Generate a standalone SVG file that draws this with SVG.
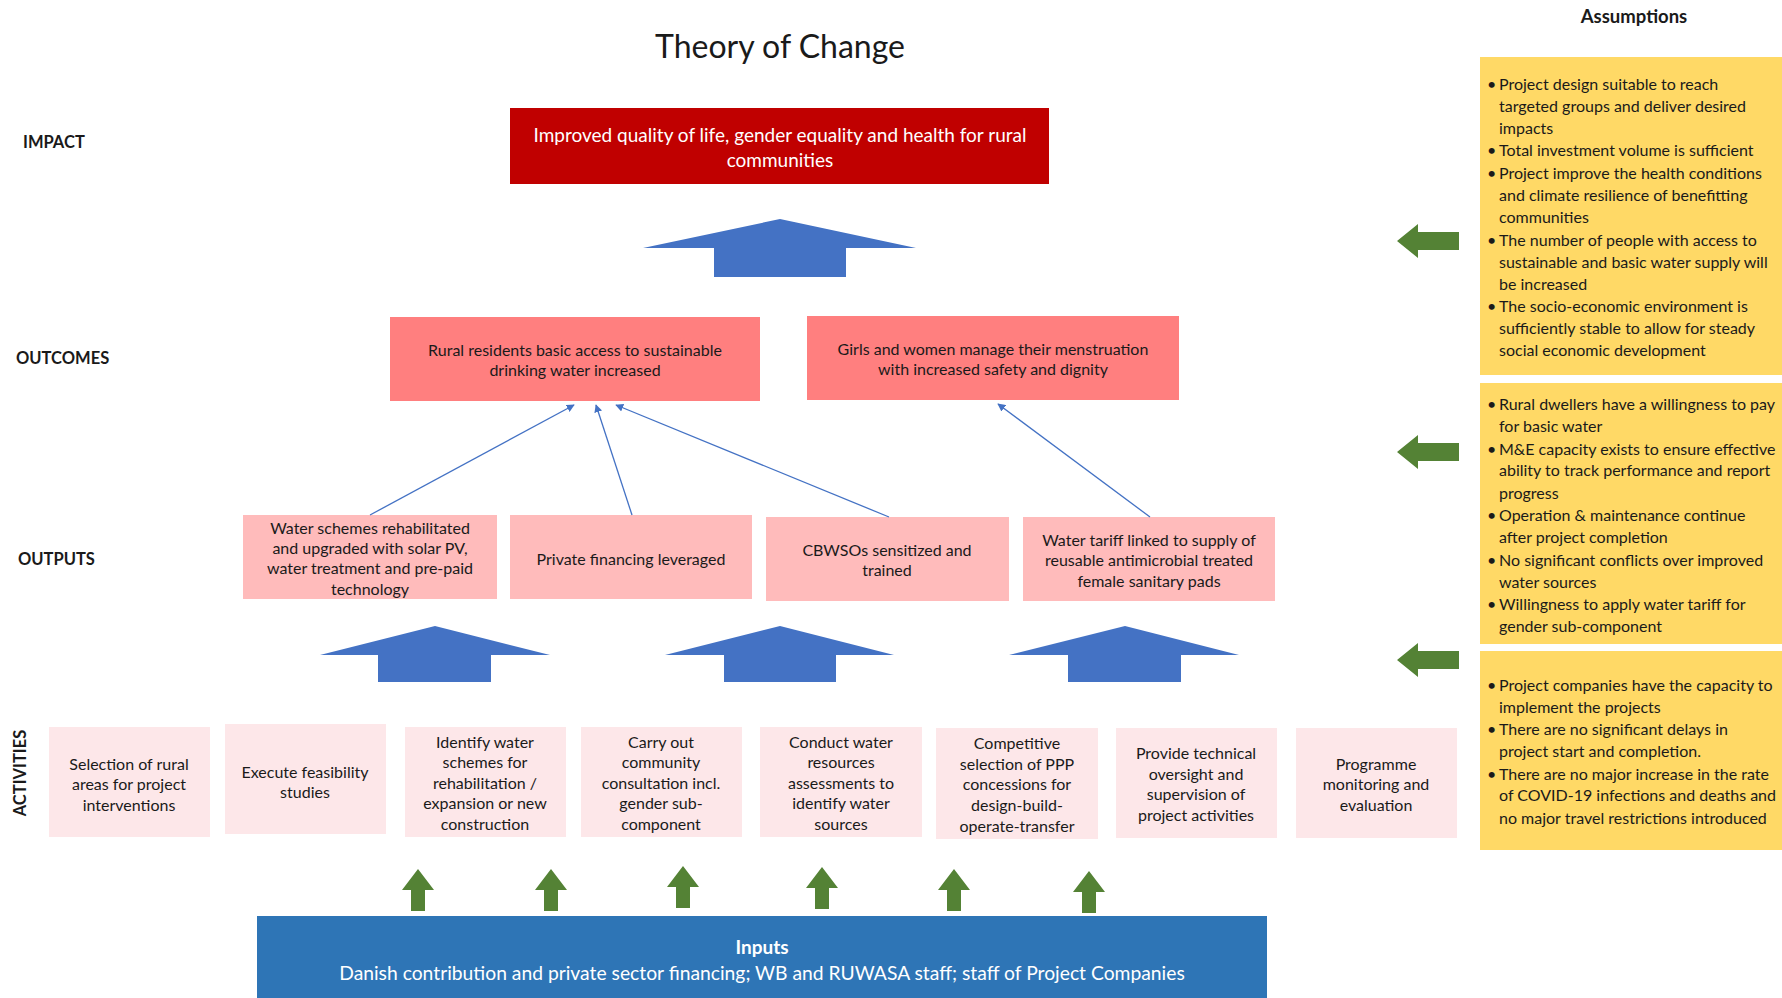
<svg xmlns="http://www.w3.org/2000/svg" width="1782" height="998" viewBox="0 0 1782 998">
<defs>
<style>
text{font-family:Lato,"Liberation Sans",sans-serif;fill:#1a1a1a;dominant-baseline:central}
.t{text-anchor:middle}
.w{fill:#fff}
.lbl{font-weight:bold;font-size:16.5px}
.act rect{fill:#FDE7E9}
.act text{font-size:16px;text-anchor:middle}
.out rect{fill:#FFBBBB}
.out text{font-size:16px;text-anchor:middle}
.oc rect{fill:#FF7F7F}
.oc text{font-size:16px;text-anchor:middle}
.big{fill:#4472C4}
.gr{fill:#548235}
.asm rect{fill:#FFD966}
.asm text{font-size:16px}
.conn line{stroke:#4472C4;stroke-width:1.3;marker-end:url(#ah)}
</style>
<marker id="ah" viewBox="0 0 10 10" refX="9" refY="5" markerWidth="8" markerHeight="8" orient="auto" markerUnits="userSpaceOnUse"><path d="M0,0L10,5L0,10z" fill="#4472C4"/></marker>
<polygon id="gup" points="-16,21 0,0 16,21 7,21 7,42 -7,42 -7,21" class="gr"/>
<polygon id="gleft" points="0,0 21,-17 21,-9 62,-9 62,9 21,9 21,17" class="gr"/>
</defs>
<rect width="1782" height="998" fill="#fff"/>

<text x="780" y="45" class="t" style="font-size:32px">Theory of Change</text>

<g id="labels">
<text x="23" y="142" class="lbl">IMPACT</text>
<text x="16" y="358" class="lbl">OUTCOMES</text>
<text x="18" y="559" class="lbl">OUTPUTS</text>
<text x="20" y="773" class="lbl t" transform="rotate(-90 20 773)">ACTIVITIES</text>
</g>

<g id="impact">
<rect x="510" y="108" width="539" height="76" fill="#C00000"/>
<text x="780" y="134" class="t w" style="font-size:19px">Improved quality of life, gender equality and health for rural</text>
<text x="780" y="159" class="t w" style="font-size:19px">communities</text>
</g>

<g id="big-arrows">
<polygon class="big" points="780,219 916,248 846,248 846,277 714,277 714,248 643,248"/>
<polygon class="big" points="435,626 550,655 491,655 491,682 378,682 378,655 320,655"/>
<polygon class="big" points="780,626 894,655 836,655 836,682 724,682 724,655 665,655"/>
<polygon class="big" points="1125,626 1239,655 1181,655 1181,682 1068,682 1068,655 1009,655"/>
</g>

<g id="outcome1" class="oc">
<rect x="390" y="317" width="370" height="84"/>
<text x="575" y="349">Rural residents basic access to sustainable</text>
<text x="575" y="369">drinking water increased</text>
</g>
<g id="outcome2" class="oc">
<rect x="807" y="316" width="372" height="84"/>
<text x="993" y="348">Girls and women manage their menstruation</text>
<text x="993" y="368">with increased safety and dignity</text>
</g>

<g id="output1" class="out">
<rect x="243" y="515" width="254" height="84"/>
<text x="370" y="527">Water schemes rehabilitated</text>
<text x="370" y="547">and upgraded with solar PV,</text>
<text x="370" y="567">water treatment and pre-paid</text>
<text x="370" y="588">technology</text>
</g>
<g id="output2" class="out">
<rect x="510" y="515" width="242" height="84"/>
<text x="631" y="558">Private financing leveraged</text>
</g>
<g id="output3" class="out">
<rect x="766" y="517" width="243" height="84"/>
<text x="887" y="549">CBWSOs sensitized and</text>
<text x="887" y="569">trained</text>
</g>
<g id="output4" class="out">
<rect x="1023" y="517" width="252" height="84"/>
<text x="1149" y="539">Water tariff linked to supply of</text>
<text x="1149" y="559">reusable antimicrobial treated</text>
<text x="1149" y="580">female sanitary pads</text>
</g>

<g id="connectors" class="conn">
<line x1="370" y1="515" x2="574" y2="405"/>
<line x1="632" y1="515" x2="596" y2="405"/>
<line x1="889" y1="517" x2="616" y2="405"/>
<line x1="1150" y1="517" x2="998" y2="404"/>
</g>

<g id="act1" class="act"><rect x="49" y="727" width="161" height="110"/>
<text x="129" y="763">Selection of rural</text><text x="129" y="783">areas for project</text><text x="129" y="804">interventions</text></g>
<g id="act2" class="act"><rect x="225" y="724" width="161" height="110"/>
<text x="305" y="771">Execute feasibility</text><text x="305" y="791">studies</text></g>
<g id="act3" class="act"><rect x="405" y="727" width="161" height="110"/>
<text x="485" y="741">Identify water</text><text x="485" y="761">schemes for</text><text x="485" y="782">rehabilitation /</text><text x="485" y="802">expansion or new</text><text x="485" y="823">construction</text></g>
<g id="act4" class="act"><rect x="581" y="727" width="161" height="110"/>
<text x="661" y="741">Carry out</text><text x="661" y="761">community</text><text x="661" y="782">consultation incl.</text><text x="661" y="802">gender sub-</text><text x="661" y="823">component</text></g>
<g id="act5" class="act"><rect x="760" y="727" width="162" height="110"/>
<text x="841" y="741">Conduct water</text><text x="841" y="761">resources</text><text x="841" y="782">assessments to</text><text x="841" y="802">identify water</text><text x="841" y="823">sources</text></g>
<g id="act6" class="act"><rect x="936" y="728" width="162" height="111"/>
<text x="1017" y="742">Competitive</text><text x="1017" y="763">selection of PPP</text><text x="1017" y="783">concessions for</text><text x="1017" y="804">design-build-</text><text x="1017" y="825">operate-transfer</text></g>
<g id="act7" class="act"><rect x="1116" y="728" width="161" height="110"/>
<text x="1196" y="752">Provide technical</text><text x="1196" y="773">oversight and</text><text x="1196" y="793">supervision of</text><text x="1196" y="814">project activities</text></g>
<g id="act8" class="act"><rect x="1296" y="728" width="161" height="110"/>
<text x="1376" y="763">Programme</text><text x="1376" y="783">monitoring and</text><text x="1376" y="804">evaluation</text></g>

<g id="green-up">
<use href="#gup" x="418" y="869"/>
<use href="#gup" x="551" y="869"/>
<use href="#gup" x="683" y="866"/>
<use href="#gup" x="822" y="867"/>
<use href="#gup" x="954" y="869"/>
<use href="#gup" x="1089" y="871"/>
</g>

<g id="inputs">
<rect x="257" y="916" width="1010" height="82" fill="#2E75B6"/>
<text x="762" y="946" class="t w" style="font-size:19px;font-weight:bold">Inputs</text>
<text x="762" y="972" class="t w" style="font-size:19.3px">Danish contribution and private sector financing; WB and RUWASA staff; staff of Project Companies</text>
</g>

<g id="green-left">
<use href="#gleft" x="1397" y="241"/>
<use href="#gleft" x="1397" y="452"/>
<use href="#gleft" x="1397" y="660"/>
</g>

<text x="1634" y="16" class="t" style="font-size:18.5px;font-weight:bold">Assumptions</text>

<g id="assump1" class="asm">
<rect x="1480" y="57" width="302" height="318"/>
<text x="1487" y="83">•</text><text x="1499" y="83">Project design suitable to reach</text>
<text x="1499" y="105">targeted groups and deliver desired</text>
<text x="1499" y="127">impacts</text>
<text x="1487" y="149">•</text><text x="1499" y="149">Total investment volume is sufficient</text>
<text x="1487" y="172">•</text><text x="1499" y="172">Project improve the health conditions</text>
<text x="1499" y="194">and climate resilience of benefitting</text>
<text x="1499" y="216">communities</text>
<text x="1487" y="239">•</text><text x="1499" y="239">The number of people with access to</text>
<text x="1499" y="261">sustainable and basic water supply will</text>
<text x="1499" y="283">be increased</text>
<text x="1487" y="305">•</text><text x="1499" y="305">The socio-economic environment is</text>
<text x="1499" y="327">sufficiently stable to allow for steady</text>
<text x="1499" y="349">social economic development</text>
</g>
<g id="assump2" class="asm">
<rect x="1480" y="383" width="302" height="261"/>
<text x="1487" y="403">•</text><text x="1499" y="403">Rural dwellers have a willingness to pay</text>
<text x="1499" y="425">for basic water</text>
<text x="1487" y="448">•</text><text x="1499" y="448">M&amp;E capacity exists to ensure effective</text>
<text x="1499" y="469">ability to track performance and report</text>
<text x="1499" y="492">progress</text>
<text x="1487" y="514">•</text><text x="1499" y="514">Operation &amp; maintenance continue</text>
<text x="1499" y="536">after project completion</text>
<text x="1487" y="559">•</text><text x="1499" y="559">No significant conflicts over improved</text>
<text x="1499" y="581">water sources</text>
<text x="1487" y="603">•</text><text x="1499" y="603">Willingness to apply water tariff for</text>
<text x="1499" y="625">gender sub-component</text>
</g>
<g id="assump3" class="asm">
<rect x="1480" y="651" width="302" height="199"/>
<text x="1487" y="684">•</text><text x="1499" y="684">Project companies have the capacity to</text>
<text x="1499" y="706">implement the projects</text>
<text x="1487" y="728">•</text><text x="1499" y="728">There are no significant delays in</text>
<text x="1499" y="750">project start and completion.</text>
<text x="1487" y="773">•</text><text x="1499" y="773">There are no major increase in the rate</text>
<text x="1499" y="794">of COVID-19 infections and deaths and</text>
<text x="1499" y="817">no major travel restrictions introduced</text>
</g>
</svg>
